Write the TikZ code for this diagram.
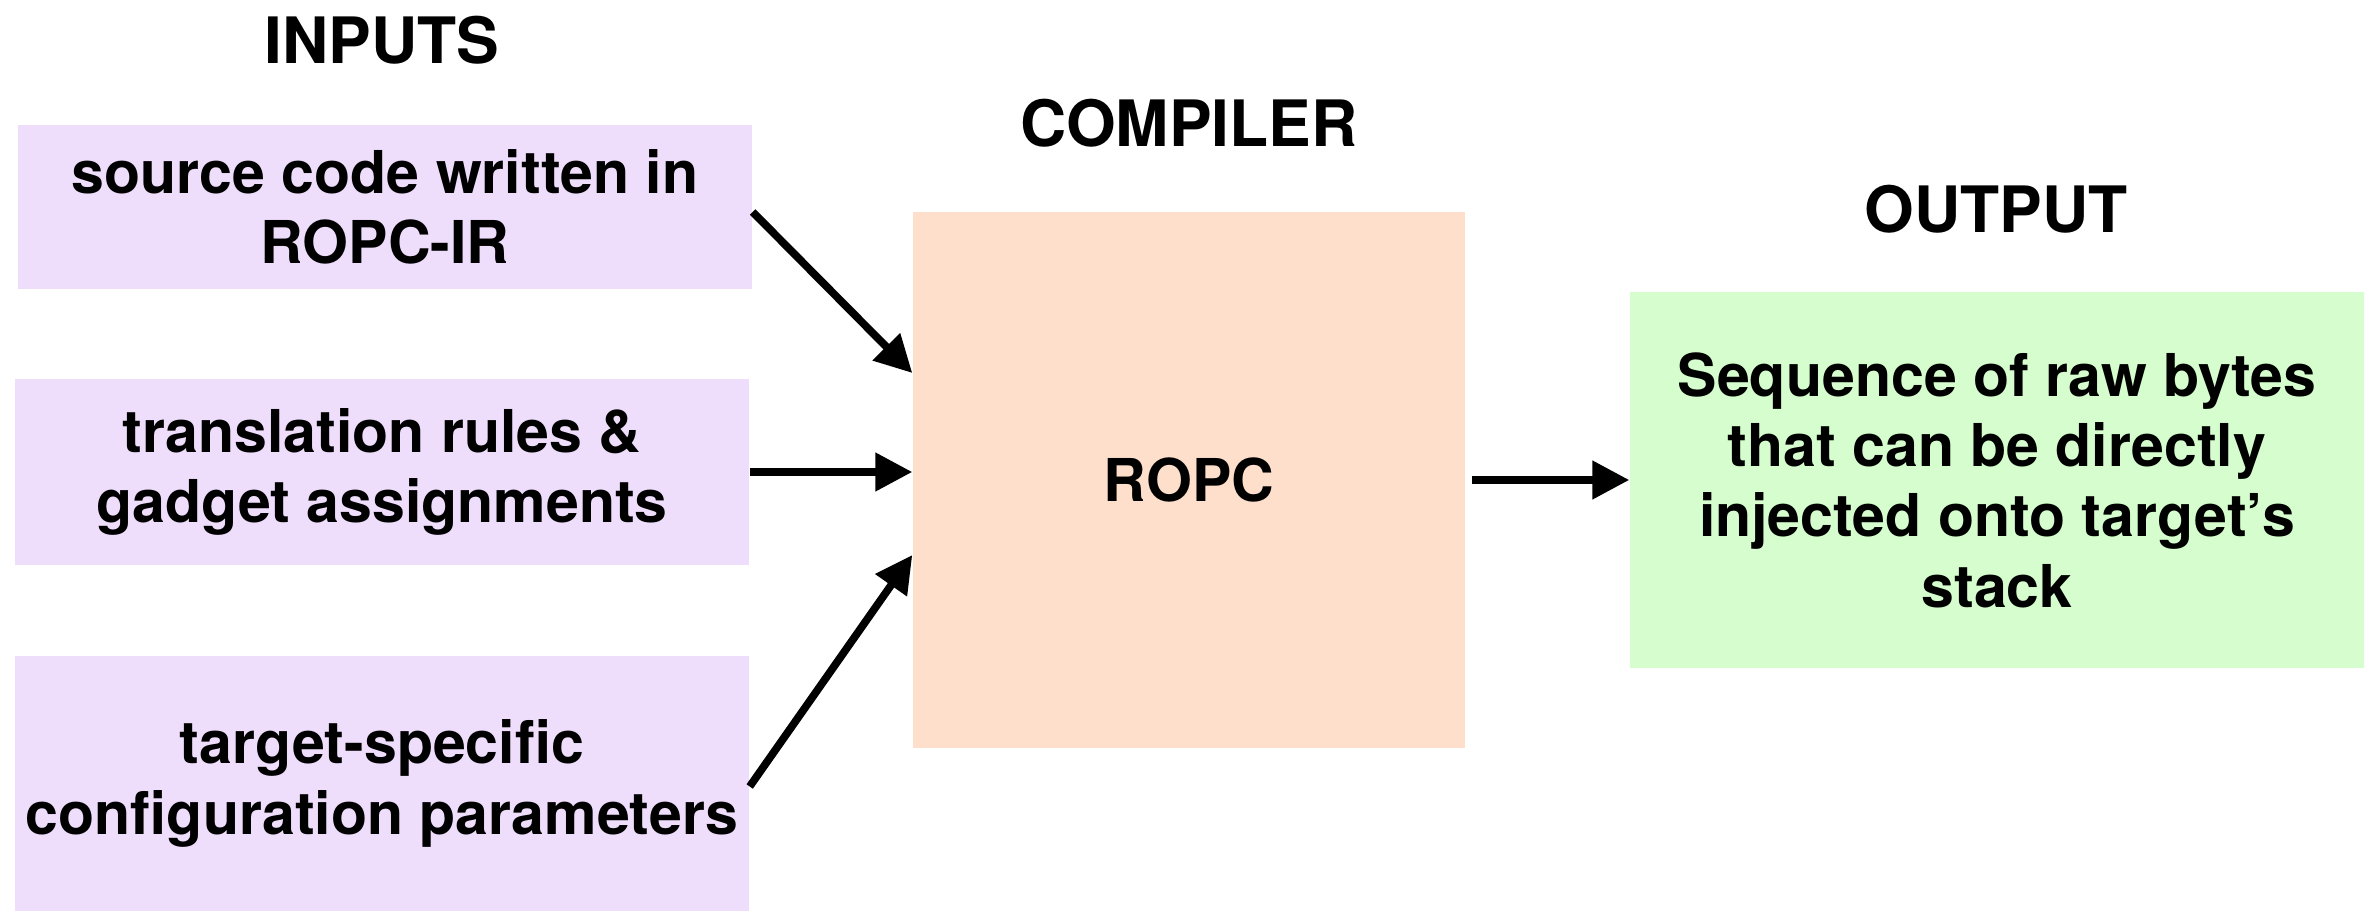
\documentclass[tikz,border=0pt]{standalone}
\usepackage{fontspec}
\setmainfont{TeX Gyre Heros}
\usetikzlibrary{arrows.meta}
\definecolor{inputfill}{RGB}{239,221,252}
\definecolor{ropcfill}{RGB}{253,223,203}
\definecolor{outfill}{RGB}{213,253,205}
\begin{document}
\begin{tikzpicture}[font=\bfseries\fontsize{16.8}{20}\selectfont,
  inbox/.style={fill=inputfill, minimum width=7.34cm, align=center, inner sep=0pt},
  title/.style={anchor=base, font=\bfseries\fontsize{18.2}{22}\selectfont},
  flow/.style={line width=2.2pt, -{Triangle[length=3.7mm, width=3.7mm]}}]
\useasboundingbox (0,0) rectangle (23.69,9.12);

% inputs
\node[title] (inputs) at (3.82,8.48) {INPUTS};
\node[inbox, minimum height=1.64cm] (source) at (3.85,7.05) {source code written in\\ROPC-IR};
\node[inbox, minimum height=1.86cm] (rules) at (3.82,4.40) {translation rules \&\\gadget assignments};
\node[inbox, minimum height=2.55cm] (config) at (3.82,1.285) {target-specific\\configuration parameters};

% compiler
\node[title] (compiler) at (11.89,7.65) {COMPILER};
\node[fill=ropcfill, minimum width=5.52cm, minimum height=5.36cm] (ropc) at (11.89,4.32) {ROPC};

% output
\node[title] (output) at (19.96,6.79) {OUTPUT};
\node[fill=outfill, minimum width=7.34cm, minimum height=3.76cm, align=center, inner sep=0pt] (bytes) at (19.97,4.32)
  {Sequence of raw bytes\\that can be directly\\injected onto target’s\\stack};

\draw[flow] ([yshift=-0.05cm]source.east) -- ([yshift=1.07cm]ropc.west);
\draw[flow] (rules.east) -- (rules.east -| ropc.west);
\draw[flow] ([yshift=-0.03cm]config.east) -- ([yshift=-0.75cm]ropc.west);
\draw[flow] ([xshift=0.06cm]ropc.east) -- (bytes.west);
\end{tikzpicture}
\end{document}
